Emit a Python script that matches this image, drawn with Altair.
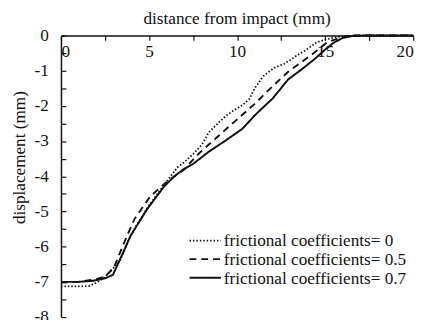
import altair as alt
import pandas as pd

# frictional coefficient = 0 (dotted)
x_mu0 = [0, 1.0, 1.6, 1.9, 2.4, 2.95, 3.35, 3.8, 4.3, 4.9, 5.5, 6.0, 6.6, 7.0, 7.5, 8.0,
         8.4, 8.9, 9.4, 9.9, 10.3, 10.7, 11.0, 11.5, 12.1, 12.7, 13.3, 14.0, 14.5, 15.0,
         15.5, 16.0, 17.0, 18.0, 19.0, 20.0]
y_mu0 = [-7.13, -7.13, -7.12, -7.05, -6.9, -6.62, -6.4, -5.85, -5.38, -4.9, -4.48, -4.15,
         -3.75, -3.6, -3.37, -3.1, -2.75, -2.5, -2.27, -2.1, -1.98, -1.8, -1.5, -1.15,
         -0.92, -0.8, -0.6, -0.38, -0.2, -0.12, -0.06, -0.02, 0, 0, 0, 0]

# frictional coefficient = 0.5 (dashed)
x_mu05 = [0, 1.0, 2.0, 2.5, 3.0, 3.23, 3.7, 4.18, 5.07, 6.02, 6.96, 7.86, 8.97, 9.92,
          11.03, 12.0, 12.9, 14.2, 15.1, 15.9, 16.5, 20]
y_mu05 = [-7.02, -7.0, -6.92, -6.85, -6.6, -6.32, -5.75, -5.21, -4.57, -4.15, -3.82,
          -3.34, -2.84, -2.42, -1.93, -1.45, -1.03, -0.56, -0.2, -0.05, 0, 0]

# frictional coefficient = 0.7 (solid)
x_mu07 = [0, 1.0, 1.8, 2.5, 2.95, 3.5, 3.96, 4.9, 5.85, 6.4, 6.9, 7.5, 8.4, 9.36, 10.3,
          11.1, 12.0, 12.9, 13.7, 14.4, 15.0, 15.5, 16.0, 16.6, 17.5, 20]
y_mu07 = [-7.0, -7.0, -6.97, -6.9, -6.8, -6.2, -5.68, -4.93, -4.29, -4.02, -3.82, -3.65,
          -3.3, -2.98, -2.65, -2.22, -1.8, -1.25, -0.95, -0.67, -0.4, -0.2, -0.07, -0.01,
          0, 0]

labels = ["frictional coefficients= 0",
          "frictional coefficients= 0.5",
          "frictional coefficients= 0.7"]

x_ticks = [0, 2.5, 5, 7.5, 10, 12.5, 15, 17.5, 20]
y_ticks = [-8, -7.5, -7, -6.5, -6, -5.5, -5, -4.5, -4, -3.5, -3, -2.5, -2, -1.5, -1,
           -0.5, 0]

rows = []
for lab, xs, ys in zip(labels, [x_mu0, x_mu05, x_mu07], [y_mu0, y_mu05, y_mu07]):
    for i, (a, b) in enumerate(zip(xs, ys)):
        rows.append({"series": lab, "x": a, "y": b, "order": i})
df = pd.DataFrame(rows)
legend_df = pd.DataFrame({"series": labels})

FONT = "'Liberation Serif', 'Times New Roman', Times, serif"
INK = "#111111"
FS = 17.5
W, H = 359, 287

dash_scale = alt.Scale(domain=labels, range=[[1.5, 2], [7, 5], [1, 0]])
width_scale = alt.Scale(domain=labels, range=[1.8, 2, 2])

lines = alt.Chart(df).mark_line(color=INK).encode(
    x=alt.X("x:Q",
            scale=alt.Scale(domain=[0, 20], nice=False),
            axis=alt.Axis(orient="bottom", offset=-H, values=x_ticks,
                          labelExpr="datum.value % 5 === 0 ? '' + datum.value : ''",
                          title=None, tickSize=5, labelPadding=2,
                          labelFont=FONT, labelFontSize=FS, labelColor=INK,
                          domainColor=INK, domainWidth=1.5, tickColor=INK,
                          tickWidth=1.2, grid=False)),
    y=alt.Y("y:Q",
            scale=alt.Scale(domain=[-8, 0], nice=False),
            axis=alt.Axis(orient="right", offset=-W, values=y_ticks,
                          labelExpr="datum.value % 1 === 0 ? '' + datum.value : ''",
                          labelAlign="right", labelPadding=-18, tickSize=5,
                          labelFont=FONT, labelFontSize=FS, labelColor=INK,
                          domainColor=INK, domainWidth=1.5, tickColor=INK,
                          tickWidth=1.2,
                          title="displacement (mm)", titleAngle=270,
                          titleFont=FONT, titleFontSize=FS, titleColor=INK,
                          titleFontWeight="normal",
                          titleX=-42, titleY=124, titleAlign="center",
                          titleBaseline="middle", grid=False)),
    strokeDash=alt.StrokeDash("series:N", scale=dash_scale, legend=None),
    strokeWidth=alt.StrokeWidth("series:N", scale=width_scale, legend=None),
    order="order:Q",
)

legend_pos = alt.Scale(type="point", domain=labels, range=[209, 247], padding=0)

legend_lines = alt.Chart(legend_df).mark_rule(color=INK).encode(
    x=alt.value(131), x2=alt.value(163),
    y=alt.Y("series:N", scale=legend_pos, axis=None),
    strokeDash=alt.StrokeDash("series:N", scale=dash_scale, legend=None),
    strokeWidth=alt.StrokeWidth("series:N", scale=width_scale, legend=None),
)

legend_text = alt.Chart(legend_df).mark_text(
    align="left", baseline="middle", font=FONT, fontSize=FS, color=INK, dy=1
).encode(
    x=alt.value(166),
    y=alt.Y("series:N", scale=legend_pos, axis=None),
    text="series:N",
)

chart = alt.layer(lines, legend_lines, legend_text).resolve_scale(
    y="independent"
).properties(
    width=W, height=H,
    title=alt.TitleParams("distance from impact (mm)", font=FONT, fontSize=FS,
                          fontWeight="normal", color=INK, anchor="middle", offset=-1),
    autosize=alt.AutoSizeParams(type="none"),
    padding={"left": 54, "top": 25, "right": 12, "bottom": 0},
).configure_view(stroke=None)

chart.save("out.html", embed_options={"renderer": "svg", "actions": False})
